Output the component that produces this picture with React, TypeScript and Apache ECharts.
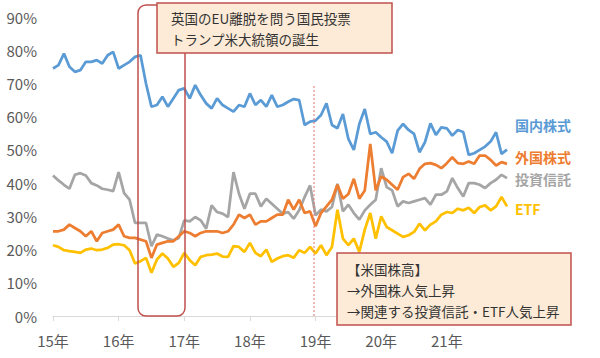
import React, { useEffect, useRef } from "react";
import * as echarts from "echarts";

const years = ["15", "16", "17", "18", "19", "20", "21"];
const months = [1, 2, 3, 4, 5, 6, 7, 8, 9, 10, 11, 12];
const categories: string[] = [];
years.forEach((y) => months.forEach((m) => categories.push(`${y}年${m}月`)));

const domestic = [
  74.5, 75.5, 79, 75, 73.5, 74, 76.5, 76.5, 77, 76, 78.5, 79.5,
  74.5, 75.5, 76.5, 78, 78.5, 70, 63, 63.5, 66, 63, 65.5, 68,
  68.5, 65.5, 69.5, 66.5, 64, 62.5, 65.5, 63.5, 62.5, 61.5, 63.5, 63,
  67, 63.5, 65, 63, 66.5, 63, 63.5, 64.5, 65.3, 65, 57.5, 58.5,
  58.8, 60.5, 64, 57.5, 56.5, 60.8, 53.3, 50, 57.8, 62.3, 54.8, 55.3,
  53.8, 52.5, 49, 55.8, 57.8, 56, 54.8, 49.3, 52.3, 58, 54.5, 56.8,
  56.5, 54.3, 56, 55.4, 48.5, 49, 50, 51, 52.5, 55.3, 48.8, 50.1,
];
const foreign = [
  25.5, 25.5, 26, 27.5, 26.5, 25.5, 24, 25.5, 22.5, 25, 25.5, 26,
  27.5, 24, 23.5, 23.5, 23, 22.5, 17.5, 21.5, 22, 22.5, 22.5, 24,
  25.5, 25, 24, 25, 25.5, 25.5, 25.5, 25, 25.5, 27.5, 30.5, 29.5,
  30.5, 27.5, 28.5, 28.5, 29.5, 30.5, 30.5, 35, 32, 35, 31, 31.5,
  27, 31, 33, 35, 39.5, 35.3, 36.7, 41.3, 35.3, 37.8, 51.8, 37.8,
  42, 41, 39.5, 38, 41.8, 42.8, 41.3, 44.3, 45.8, 46, 45.5, 44.5,
  46, 47.8, 46, 45.8, 46.5, 45.8, 48.3, 48.3, 47, 45.3, 46.3, 45.8,
];
const trusts = [
  42.3, 40.8, 39.5, 38.3, 42.5, 43, 42.3, 40, 39.3, 38.3, 38, 37.6,
  43.3, 37, 35, 28, 28, 28, 21, 24.5, 24, 23.3, 22.8, 23.5,
  28.8, 28.5, 29.8, 28.8, 26.3, 33.3, 31.3, 30.8, 29.8, 43.3, 36.8, 32.3,
  36.8, 36.8, 33, 35.3, 33.8, 32.3, 30.8, 31.3, 29.3, 31.8, 35.8, 39.3,
  30.3, 32, 31.5, 32.8, 39.8, 31.5, 33.5, 31, 29, 31.8, 33.5, 35,
  44.5, 38.8, 37.8, 33, 34.5, 34, 34.5, 35, 35.5, 33.5, 36.5, 36.5,
  37.5, 41.5, 38.5, 36, 40, 40, 39.5, 38.5, 40, 41, 42.5, 41.5,
];
const etf = [
  21.3, 20.8, 19.8, 19.5, 19.3, 19, 20, 20.3, 19.8, 20, 20.5, 21.5,
  21.6, 21.3, 19.8, 15.8, 16.5, 17.5, 13, 17, 18.8, 17.3, 14.8, 16,
  19, 16.8, 15.3, 17.8, 18.3, 18.5, 18.8, 17.9, 17.8, 21, 20.8, 19.3,
  22, 19, 18, 20, 16.3, 17.3, 18, 18.3, 17.5, 19.8, 19, 20.8,
  18.8, 21.3, 18.3, 20.8, 32, 23.3, 21.3, 23.3, 19.3, 26, 31, 23.3,
  30, 26.8, 25.8, 24.8, 23.8, 24.3, 25.3, 27.8, 25.8, 27.5, 28.5, 30.5,
  31.3, 31, 32.3, 31.8, 32.6, 31, 32.8, 33.3, 31.8, 33, 35.8, 33,
];

const seriesNames = ["国内株式", "外国株式", "投資信託", "ETF"];
const seriesColors = ["#5B9BD5", "#ED7D31", "#A5A5A5", "#FFC000"];
const seriesData = [domestic, foreign, trusts, etf];

const note1 = ["英国のEU離脱を問う国民投票", "トランプ米大統領の誕生"];
const note2 = ["【米国株高】", "→外国株人気上昇", "→関連する投資信託・ETF人気上昇"];

const FONT = "'Noto Sans CJK JP', 'Noto Sans', sans-serif";
const RED = "#C0504D";
const BOX_FILL = "#FDEBD7";

export default function App() {
  const ref = useRef<HTMLDivElement>(null);
  useEffect(() => {
    document.body.style.margin = "0";
    const chart = echarts.init(ref.current!, undefined, { renderer: "svg" });
    const yearTick = (i: number) => i % 12 === 0;
    const labelY = [125, 157, 179, 209];
    chart.setOption({
      animation: false,
      textStyle: { fontFamily: FONT },
      grid: { left: 53, right: 93, top: 17, bottom: 42 },
      xAxis: {
        type: "category",
        boundaryGap: false,
        data: categories,
        axisLine: { lineStyle: { color: "#D9D9D9", width: 1 } },
        axisTick: { show: true, interval: yearTick, length: 5, lineStyle: { color: "#D9D9D9" } },
        axisLabel: {
          interval: yearTick,
          formatter: (v: string) => v.split("年")[0] + "年",
          fontSize: 15,
          color: "#595959",
          margin: 17,
          fontFamily: FONT,
        },
        splitLine: { show: false },
      },
      yAxis: {
        type: "value",
        min: 0,
        max: 90,
        interval: 10,
        axisLine: { show: false },
        axisTick: { show: false },
        splitLine: { show: false },
        axisLabel: { formatter: "{value}%", fontSize: 15, color: "#595959", margin: 16, fontFamily: FONT },
      },
      series: seriesNames.map((name, i) => ({
        name,
        type: "line",
        data: seriesData[i],
        showSymbol: false,
        symbol: "none",
        lineStyle: { color: seriesColors[i], width: 2.75 },
        itemStyle: { color: seriesColors[i] },
        z: 2 + (3 - i),
      })),
      graphic: [
        {
          type: "rect",
          z: 50,
          shape: { x: 138, y: 5, width: 47, height: 311, r: 8 },
          style: { fill: "none", stroke: RED, lineWidth: 1.5 },
        },
        {
          type: "line",
          z: 50,
          shape: { x1: 314, y1: 86, x2: 314, y2: 316 },
          style: { stroke: "#E57373", lineWidth: 1, lineDash: [2, 2] },
        },
        {
          type: "rect",
          z: 60,
          shape: { x: 157, y: 3, width: 235, height: 50 },
          style: { fill: BOX_FILL, stroke: RED, lineWidth: 1.5 },
        },
        ...note1.map((t, i) => ({
          type: "text",
          z: 61,
          x: 171,
          y: 18 + i * 21,
          style: { text: t, fontSize: 13.5, fill: "#333", fontFamily: FONT, verticalAlign: "middle" },
        })),
        {
          type: "rect",
          z: 60,
          shape: { x: 337, y: 253, width: 234, height: 72 },
          style: { fill: BOX_FILL, stroke: RED, lineWidth: 1.5 },
        },
        ...note2.map((t, i) => ({
          type: "text",
          z: 61,
          x: 347,
          y: 269 + i * 21,
          style: { text: t, fontSize: 13.5, fill: "#333", fontFamily: FONT, verticalAlign: "middle" },
        })),
        ...seriesNames.map((n, i) => ({
          type: "text",
          z: 61,
          x: 515,
          y: labelY[i],
          style: {
            text: n,
            fontSize: 14,
            fontWeight: "bold",
            fill: seriesColors[i],
            fontFamily: FONT,
            verticalAlign: "middle",
          },
        })),
      ],
    });
    return () => chart.dispose();
  }, []);
  return <div ref={ref} style={{ width: 600, height: 358 }} />;
}
